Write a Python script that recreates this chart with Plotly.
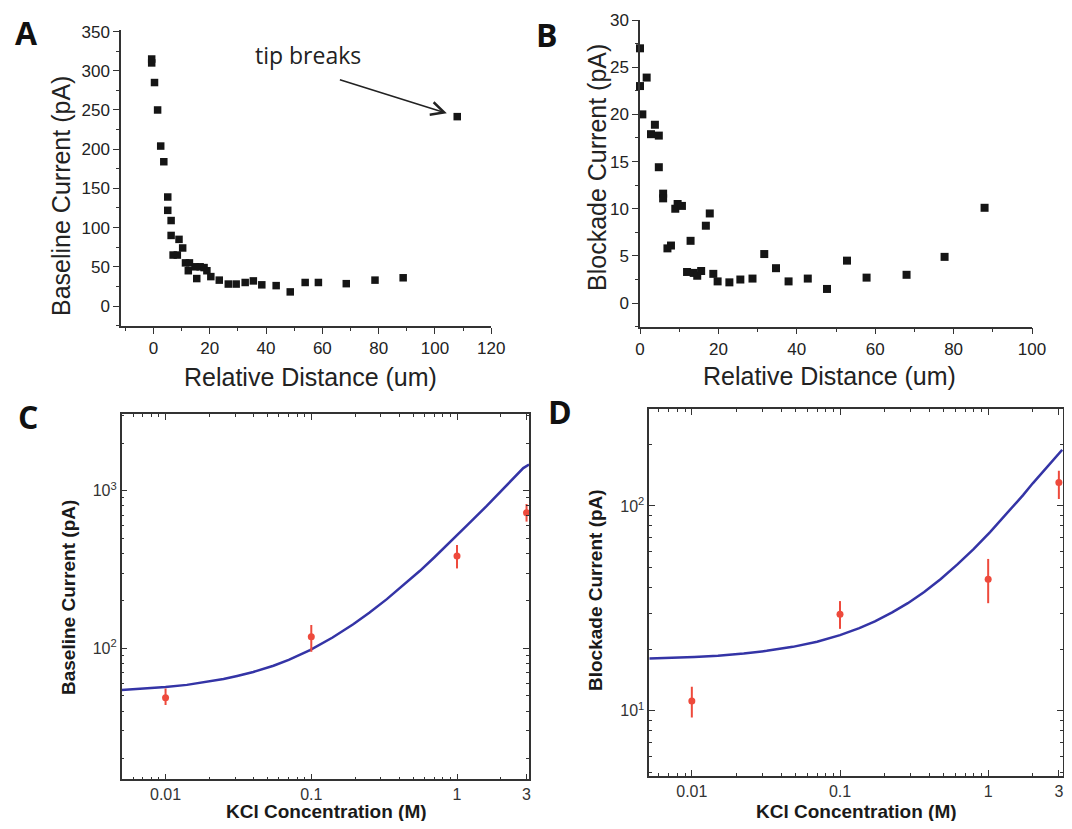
import plotly.graph_objects as go

# ---------------- data ----------------
# Panel A: baseline current vs relative distance
A_dist = [-0.6, -0.6, 0.4, 1.5, 2.6, 3.7, 5.1, 5.1, 6.3, 6.3,
          7.0, 8.5, 9.1, 10.4, 11.4, 12.8, 12.4, 14.8, 16.6, 18.0,
          19.0, 20.4, 15.4, 23.4, 26.6, 29.4, 32.6, 35.5, 38.5, 43.6,
          48.6, 53.9, 58.6, 68.5, 78.7, 88.7, 107.9]
A_current = [315, 310, 285, 250, 204, 184, 139, 122, 109, 90,
             65, 65, 85, 74, 55, 55, 45, 50, 50, 49,
             45, 37.5, 35, 33, 28, 28, 30, 32, 27, 26,
             18, 30, 30, 28.5, 33, 36, 241.5]

# Panel B: blockade current vs relative distance
B_dist = [0, 0, 0.6, 1.7, 2.8, 3.8, 4.8, 4.8, 5.9, 5.9,
          7.0, 7.9, 9.0, 9.6, 10.7, 12.9, 12.0, 13.7, 14.6, 15.6,
          16.8, 17.8, 18.7, 19.8, 22.8, 25.6, 28.7, 31.7, 34.7, 37.9,
          42.8, 47.7, 52.8, 57.8, 68.0, 77.7, 87.9]
B_current = [27, 23, 20, 23.9, 17.9, 18.9, 17.75, 14.4, 11.6, 11.1,
             5.8, 6.1, 10.0, 10.5, 10.3, 6.6, 3.3, 3.2, 2.9, 3.4,
             8.2, 9.5, 3.1, 2.3, 2.2, 2.5, 2.6, 5.2, 3.7, 2.3,
             2.6, 1.5, 4.5, 2.7, 3.0, 4.9, 10.1]

# Panels C and D: KCl concentration (M)
KCl = [0.01, 0.1, 1, 3]
C_base = [48.6, 118.5, 385, 725]
C_err_plus = [6.9, 22, 67, 97]
C_err_minus = [5, 23.5, 64, 89]
D_block = [11.15, 29.6, 43.9, 130]
D_err_plus = [1.95, 4.7, 11.2, 18.6]
D_err_minus = [1.9, 4.5, 10.4, 22]

# model curves
C_fit_conc = [0.005, 0.0075, 0.01, 0.014, 0.018, 0.025, 0.031, 0.04, 0.055, 0.07, 0.098,
              0.14, 0.194, 0.25, 0.33, 0.43, 0.557, 0.7, 0.943, 1.2, 1.6, 2.0, 2.5, 2.85, 3.12]
C_fit_curr = [54.4, 55.5, 56.8, 58.6, 60.6, 63.8, 66.8, 70.8, 77.5, 84.5, 97.5,
              117, 142, 168, 205, 252, 310, 378, 492, 615, 800, 990, 1225, 1390, 1465]
D_fit_conc = [0.00516, 0.0075, 0.0104, 0.015, 0.0224, 0.032, 0.048, 0.07, 0.1, 0.135, 0.172,
              0.225, 0.287, 0.37, 0.479, 0.62, 0.797, 1.03, 1.33, 1.72, 2.0, 2.39, 2.75, 3.16]
D_fit_curr = [18.0, 18.1, 18.3, 18.55, 19.0, 19.6, 20.5, 21.7, 23.4, 25.3, 27.3,
              30.2, 33.5, 38.0, 44.0, 51.8, 61.5, 74.5, 91.5, 113, 129, 150, 168, 188]

# tick labels
lin_A_x_ticks = [0, 20, 40, 60, 80, 100, 120]
lin_A_y_ticks = [0, 50, 100, 150, 200, 250, 300, 350]
lin_B_x_ticks = [0, 20, 40, 60, 80, 100]
lin_B_y_ticks = [0, 5, 10, 15, 20, 25, 30]
log_x_ticks = [0.01, 0.1, 1, 3]
log_x_labels = ["0.01", "0.1", "1", "3"]
C_y_ticks = [100, 1000]
C_y_labels = ["10<sup>2</sup>", "10<sup>3</sup>"]
D_y_ticks = [10, 100]
D_y_labels = ["10<sup>1</sup>", "10<sup>2</sup>"]

# ---------------- layout helpers ----------------
# the page body has an 8 px margin: draw the figure 8 px in and keep it inside the window
OFF = 8
W, H = 1056, 813


def fx(px):
    return (px - OFF) / W


def fy(py):
    return 1 - (py - OFF) / H


RED = "#ee4a3c"
BLUE = "#3434a6"
AXC = "#333333"
TICKF = dict(family="Liberation Sans, Arial, sans-serif", size=17, color="#222222")

fig = go.Figure()

# A
fig.add_trace(go.Scatter(x=A_dist, y=A_current, mode="markers",
                         marker=dict(symbol="square", size=7.5, color="#151515"),
                         xaxis="x", yaxis="y", cliponaxis=False))
# B
fig.add_trace(go.Scatter(x=B_dist, y=B_current, mode="markers",
                         marker=dict(symbol="square", size=8, color="#151515"),
                         xaxis="x2", yaxis="y2", cliponaxis=False))
# C
fig.add_trace(go.Scatter(x=C_fit_conc, y=C_fit_curr, mode="lines",
                         line=dict(color=BLUE, width=2.5),
                         xaxis="x3", yaxis="y3"))
fig.add_trace(go.Scatter(x=KCl, y=C_base, mode="markers",
                         marker=dict(symbol="circle", size=7, color=RED),
                         error_y=dict(type="data", symmetric=False, array=C_err_plus,
                                      arrayminus=C_err_minus, color=RED, thickness=2, width=0),
                         xaxis="x3", yaxis="y3", cliponaxis=False))
# D
fig.add_trace(go.Scatter(x=D_fit_conc, y=D_fit_curr, mode="lines",
                         line=dict(color=BLUE, width=2.5),
                         xaxis="x4", yaxis="y4"))
fig.add_trace(go.Scatter(x=KCl, y=D_block, mode="markers",
                         marker=dict(symbol="circle", size=7, color=RED),
                         error_y=dict(type="data", symmetric=False, array=D_err_plus,
                                      arrayminus=D_err_minus, color=RED, thickness=2, width=0),
                         xaxis="x4", yaxis="y4", cliponaxis=False))

lin_common = dict(showline=True, linecolor=AXC, linewidth=1.5, ticks="outside",
                  ticklen=6, tickwidth=1.3, tickcolor=AXC, showgrid=False, zeroline=False,
                  tickfont=TICKF, automargin=False)
log_common = dict(type="log", showline=True, linecolor=AXC, linewidth=1.5, mirror="allticks",
                  ticks="inside", ticklen=6, tickwidth=1.2, tickcolor=AXC, showgrid=False,
                  zeroline=False, automargin=False, ticklabeloverflow="allow",
                  tickfont=dict(family="Liberation Sans, Arial, sans-serif",
                                size=16, color="#333333"))

minor_logx = [0.006, 0.007, 0.008, 0.009, 0.02, 0.03, 0.04, 0.05, 0.06, 0.07, 0.08, 0.09,
              0.2, 0.3, 0.4, 0.5, 0.6, 0.7, 0.8, 0.9, 2]

fig.update_layout(
    width=W, height=H, margin=dict(l=0, r=0, t=0, b=0),
    paper_bgcolor="white", plot_bgcolor="white", showlegend=False,
    xaxis=dict(domain=[fx(121), fx(491.3)], range=[-11.5, 120], anchor="y",
               tickvals=lin_A_x_ticks,
               minor=dict(ticks="outside", dtick=10, tick0=0, ticklen=3.5, tickcolor=AXC),
               **lin_common),
    yaxis=dict(domain=[fy(326), fy(30)], range=[-25.5, 352], anchor="x",
               tickvals=lin_A_y_ticks,
               minor=dict(ticks="outside", dtick=25, tick0=0, ticklen=3.5, tickcolor=AXC),
               **lin_common),
    xaxis2=dict(domain=[fx(640), fx(1032)], range=[0, 100], anchor="y2",
                tickvals=lin_B_x_ticks,
                minor=dict(ticks="outside", dtick=10, tick0=0, ticklen=3.5, tickcolor=AXC),
                **lin_common),
    yaxis2=dict(domain=[fy(326.7), fy(20)], range=[-2.5, 30], anchor="x2",
                tickvals=lin_B_y_ticks,
                minor=dict(ticks="outside", dtick=2.5, tick0=0, ticklen=3.5, tickcolor=AXC),
                **lin_common),
    xaxis3=dict(domain=[fx(121.7), fx(529)], range=[-2.301, 0.494], anchor="y3",
                tickvals=log_x_ticks, ticktext=log_x_labels,
                minor=dict(ticks="inside", tickvals=minor_logx, ticklen=3, tickcolor=AXC),
                **log_common),
    yaxis3=dict(domain=[fy(779.3), fy(414)], range=[1.169, 3.486], anchor="x3",
                tickvals=C_y_ticks, ticktext=C_y_labels,
                minor=dict(ticks="inside", ticklen=3, tickcolor=AXC,
                           tickvals=[20, 30, 40, 50, 60, 70, 80, 90,
                                     200, 300, 400, 500, 600, 700, 800, 900, 2000, 3000]),
                **log_common),
    xaxis4=dict(domain=[fx(649.3), fx(1063)], range=[-2.287, 0.505], anchor="y4",
                tickvals=log_x_ticks, ticktext=log_x_labels,
                minor=dict(ticks="inside", tickvals=minor_logx, ticklen=3, tickcolor=AXC),
                **log_common),
    yaxis4=dict(domain=[fy(776), fy(409.3)], range=[0.681, 2.472], anchor="x4",
                tickvals=D_y_ticks, ticktext=D_y_labels,
                minor=dict(ticks="inside", ticklen=3, tickcolor=AXC,
                           tickvals=[5, 6, 7, 8, 9, 20, 30, 40, 50, 60, 70, 80, 90, 200]),
                **log_common),
)

TITLE_F = dict(family="Liberation Sans, Arial, sans-serif", size=25, color="#222222")
TITLE_CD = dict(family="Liberation Sans, Arial, sans-serif", size=19, color="#1a1a1a")
PANEL_F = dict(family="Open Sans, Liberation Sans, sans-serif", size=32, color="#111111")

ann = []


def text(px, py, s, font, angle=0):
    ann.append(dict(x=fx(px), y=fy(py), xref="paper", yref="paper", text=s, showarrow=False,
                    font=font, textangle=angle, xanchor="center", yanchor="middle"))


# panel letters
text(26, 32, "<b>A</b>", PANEL_F)
text(547, 34, "<b>B</b>", PANEL_F)
text(28, 416, "<b>C</b>", PANEL_F)
text(560, 412, "<b>D</b>", PANEL_F)

# axis titles
text(61, 196, "Baseline Current (pA)", TITLE_F, -90)
text(310, 377, "Relative Distance (um)", TITLE_F)
text(597, 168, "Blockade Current (pA)", TITLE_F, -90)
text(829, 376, "Relative Distance (um)", TITLE_F)
text(68, 598, "<b>Baseline Current (pA)</b>", TITLE_CD, -90)
text(326, 811, "<b>KCl Concentration (M)</b>", TITLE_CD)
text(595, 590, "<b>Blockade Current (pA)</b>", TITLE_CD, -90)
text(856, 811, "<b>KCl Concentration (M)</b>", TITLE_CD)

# tip breaks annotation
text(308, 55, "tip breaks", dict(family="Open Sans, sans-serif", size=23, color="#222222"))
ann.append(dict(x=104.2, y=245.8, ax=65.7, ay=289.2, xref="x", yref="y", axref="x", ayref="y",
                text="", showarrow=True, arrowhead=5, arrowsize=1.6, arrowwidth=1.6,
                arrowcolor="#222222", standoff=0))

fig.update_layout(annotations=ann)
fig.write_html("out.html")
